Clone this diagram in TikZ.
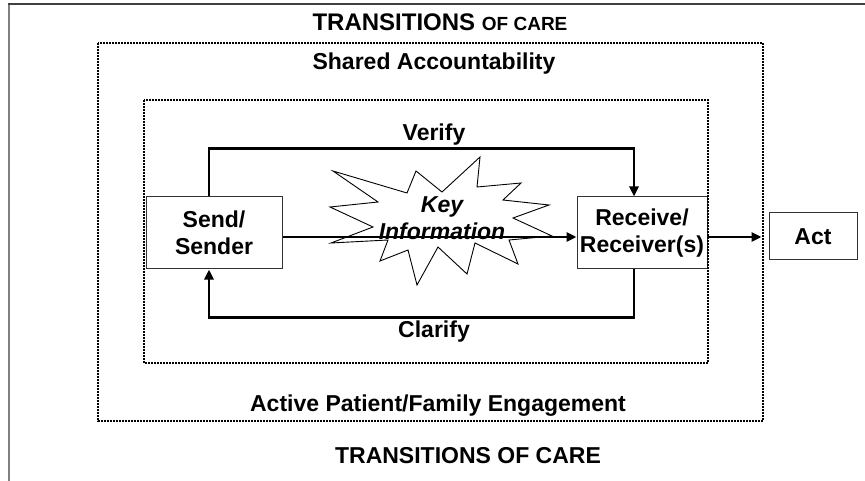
\documentclass[tikz,border=0pt]{standalone}
\usepackage{fontspec}
\setmainfont{Liberation Sans}
\usetikzlibrary{arrows.meta}
\begin{document}
\begin{tikzpicture}[x=1pt,y=-1pt,
                    box node/.style={draw=black!80,line width=1pt,fill=white,inner sep=0pt,align=center,font=\fontsize{23}{27}\selectfont\bfseries},
                    label node/.style={inner sep=0pt,font=\fontsize{23}{25}\selectfont\bfseries},
                    dotbox/.style={line width=1.8pt,dash pattern=on 1.8pt off 1.2pt},
                    conn/.style={line width=2.6pt,-{Triangle[length=10pt,width=9pt]}},
                    burst/.style={draw,line width=0.9pt,fill=white}
                   ]
  \useasboundingbox (0,0) rectangle (865,481);
  % frame
  \draw[gray,line width=2pt] (9,481) -- (9,4);
  \draw[black!75,line width=2pt] (8,4) -- (865,4);

  \node[box node,minimum width=136pt,minimum height=72pt] (snd) at (214,233) {Send/\\Sender};
  \node[box node,minimum width=130pt,minimum height=72pt] (rcv) at (642,233) {Receive/\\Receiver(s)};
  \node[box node,minimum width=88pt,minimum height=47pt] (act) at (813,236.5) {Act};

  \draw[dotbox] (98,43) rectangle (763,421);
  \draw[dotbox] (144,100) rectangle (708,363);

  % key information
  \draw[burst] (333,171) -- (407,193) -- (416,171) -- (442,192) -- (480,157) -- (477,187)
    -- (521,183) -- (503,200) -- (549,205) -- (513,218) -- (552,236) -- (509,240)
    -- (518,264) -- (475,243) -- (467,274) -- (438,247) -- (417,285) -- (408,250)
    -- (380,261) -- (388,240) -- (331,243) -- (373,227) -- (330,207) -- (378,202) -- cycle;
  \draw[conn] ([yshift=-4pt]snd.east) -- ([yshift=-4pt]rcv.west);
  \node[inner sep=0pt,align=center,font=\fontsize{23}{27}\selectfont\bfseries\itshape] (key) at (442,218) {Key\\Information};

  \draw[conn] ([xshift=-5pt]snd.north) -- ++(0,-48) -| ([xshift=-8pt]rcv.north);
  \draw[conn] ([xshift=-8pt]rcv.south) -- ++(0,48) -| ([xshift=-5pt]snd.south);
  \draw[conn,shorten >=7pt] ([yshift=-4pt]rcv.east) -- ([yshift=-4pt]rcv.east -| act.west);

  \node[label node] (verify) at (434,135) {Verify};
  \node[label node] (clarify) at (434,332) {Clarify};
  \node[label node] (toptitle) at (440,22) {\fontsize{24}{26}\selectfont TRANSITIONS {\fontsize{19}{21}\selectfont OF CARE}};
  \node[label node] (shared) at (434,64) {Shared Accountability};
  \node[label node] (active) at (438,406) {Active Patient/Family Engagement};
  \node[label node] (bottitle) at (468,456) {TRANSITIONS OF CARE};
\end{tikzpicture}
\end{document}
